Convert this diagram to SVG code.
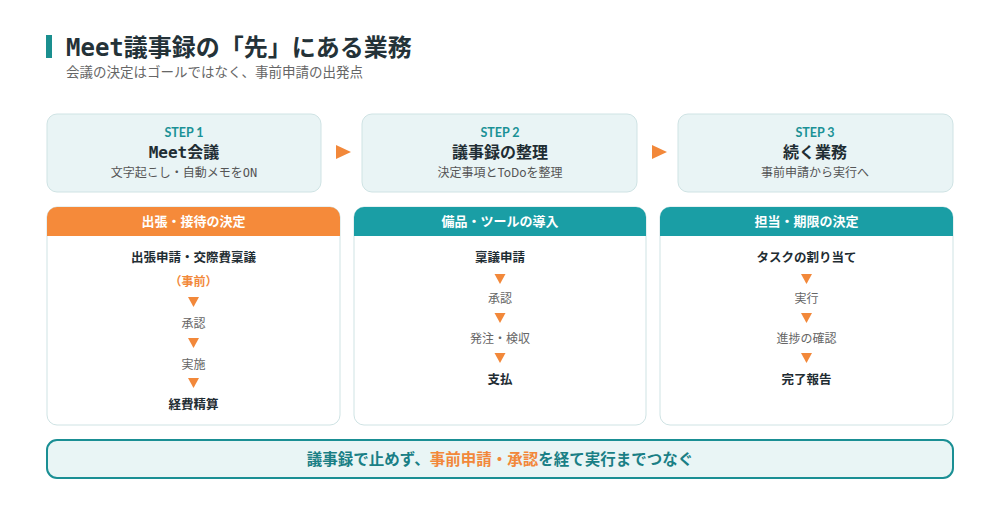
<svg xmlns="http://www.w3.org/2000/svg" width="1000" height="523" viewBox="0 0 1000 523">
<style>
text{font-family:"Noto Sans CJK JP","Noto Sans",sans-serif;text-anchor:middle}
.step{fill:#e9f4f5;stroke:#cfe3e4;stroke-width:1}
.sl{font-family:"Lato","Inter","Noto Sans",sans-serif;font-weight:700;font-size:12.5px;fill:#1a9196}
.st{font-weight:700;font-size:16px;fill:#1f2d33}
.ss{font-size:12px;fill:#555}
.mono{font-family:"DejaVu Sans Mono","Noto Sans CJK JP",monospace}
.card{fill:#fff;stroke:#cfe3e4;stroke-width:1}
.ht{font-weight:700;font-size:13px;fill:#fff}
.b{font-weight:700;font-size:12.5px;fill:#1f2d33}
.n{font-size:12px;fill:#666}
.tri{fill:#f2883a}
</style>
<rect width="1000" height="523" fill="#fff"/>
<g id="title">
<rect x="46" y="35" width="6" height="23" fill="#1a8f8f"/>
<text x="66" y="56" style="text-anchor:start;font-family:'DejaVu Sans Mono','Noto Sans CJK JP',monospace;font-weight:700;font-size:24px;fill:#243238">Meet議事録の「先」にある業務</text>
<text x="66" y="77" style="text-anchor:start;font-size:13.5px;fill:#666">会議の決定はゴールではなく、事前申請の出発点</text>
</g>
<g id="step1">
<rect class="step" x="47" y="114" width="274" height="78" rx="10"/>
<text class="sl" x="184" y="137">STEP 1</text>
<text class="st" x="184" y="158"><tspan class="mono">Meet</tspan>会議</text>
<text class="ss" x="184" y="177">文字起こし・自動メモを<tspan class="mono">ON</tspan></text>
</g>
<g id="step2">
<rect class="step" x="362" y="114" width="275" height="78" rx="10"/>
<text class="sl" x="500" y="137">STEP 2</text>
<text class="st" x="500" y="158">議事録の整理</text>
<text class="ss" x="500" y="177">決定事項とToDoを整理</text>
</g>
<g id="step3">
<rect class="step" x="678" y="114" width="275" height="78" rx="10"/>
<text class="sl" x="815" y="137">STEP 3</text>
<text class="st" x="815" y="158">続く業務</text>
<text class="ss" x="815" y="177">事前申請から実行へ</text>
</g>
<g id="connectors">
<polygon class="tri" points="336,145 351,152 336,159"/>
<polygon class="tri" points="652,145 667,152 652,159"/>
</g>
<g id="card1">
<rect class="card" x="47" y="207" width="293" height="218" rx="10"/>
<path d="M47,236 V217 a10,10 0 0 1 10,-10 H330 a10,10 0 0 1 10,10 V236 Z" fill="#f58a3a"/>
<text class="ht" x="193.5" y="226">出張・接待の決定</text>
<text class="b" x="193.5" y="262">出張申請・交際費稟議</text>
<text x="193.5" y="286" style="font-weight:700;font-size:12px;fill:#f2883a">（事前）</text>
<polygon class="tri" points="188,297 199,297 193.5,307"/>
<text class="n" x="193.5" y="328">承認</text>
<polygon class="tri" points="188,338 199,338 193.5,348"/>
<text class="n" x="193.5" y="369">実施</text>
<polygon class="tri" points="188,378 199,378 193.5,388"/>
<text class="b" x="193.5" y="409">経費精算</text>
</g>
<g id="card2">
<rect class="card" x="354" y="207" width="292" height="218" rx="10"/>
<path d="M354,236 V217 a10,10 0 0 1 10,-10 H636 a10,10 0 0 1 10,10 V236 Z" fill="#1a9ea5"/>
<text class="ht" x="500" y="226">備品・ツールの導入</text>
<text class="b" x="500" y="262">稟議申請</text>
<polygon class="tri" points="494.5,274 505.5,274 500,284"/>
<text class="n" x="500" y="303">承認</text>
<polygon class="tri" points="494.5,313 505.5,313 500,323"/>
<text class="n" x="500" y="343">発注・検収</text>
<polygon class="tri" points="494.5,353 505.5,353 500,363"/>
<text class="b" x="500" y="384">支払</text>
</g>
<g id="card3">
<rect class="card" x="660" y="207" width="293" height="218" rx="10"/>
<path d="M660,236 V217 a10,10 0 0 1 10,-10 H943 a10,10 0 0 1 10,10 V236 Z" fill="#1a9ea5"/>
<text class="ht" x="806.5" y="226">担当・期限の決定</text>
<text class="b" x="806.5" y="262">タスクの割り当て</text>
<polygon class="tri" points="801,274 812,274 806.5,284"/>
<text class="n" x="806.5" y="303">実行</text>
<polygon class="tri" points="801,313 812,313 806.5,323"/>
<text class="n" x="806.5" y="343">進捗の確認</text>
<polygon class="tri" points="801,353 812,353 806.5,363"/>
<text class="b" x="806.5" y="384">完了報告</text>
</g>
<g id="banner">
<rect x="47" y="440" width="906" height="38" rx="10" fill="#e9f5f5" stroke="#1a8f94" stroke-width="2"/>
<text x="500" y="465" style="font-weight:700;font-size:15.5px;fill:#1a7f85">議事録で止めず、<tspan fill="#f2883a">事前申請・承認</tspan>を経て実行までつなぐ</text>
</g>
</svg>
